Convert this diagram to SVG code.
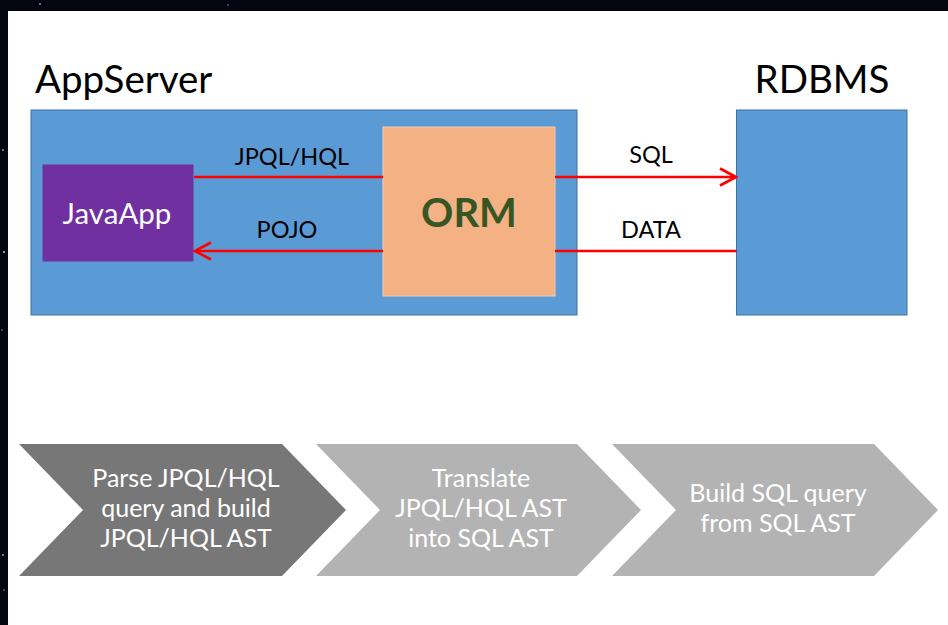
<svg xmlns="http://www.w3.org/2000/svg" width="948" height="625" viewBox="0 0 948 625">
  <defs>
    <style>
      .title { font-family: Lato, "Open Sans", "Liberation Sans", sans-serif; font-size: 38.5px; fill: #000; }
      .lbl { font-family: Lato, "Open Sans", "Liberation Sans", sans-serif; font-size: 23.5px; fill: #000; text-anchor: middle; }
      .box { fill: #5B9BD5; stroke: #41719C; stroke-width: 1; }
      .wire { stroke: #FF0000; stroke-width: 2.6; fill: none; }
      .step { font-family: Lato, "Open Sans", "Liberation Sans", sans-serif; font-size: 25px; fill: #FFFFFF; text-anchor: middle; }
    </style>
    <marker id="head" viewBox="0 0 20 20" markerWidth="20" markerHeight="20" refX="18" refY="10" orient="auto" markerUnits="userSpaceOnUse">
      <path d="M2,1.5 L18,10 L2,18.5" fill="none" stroke="#FF0000" stroke-width="2.6"/>
    </marker>
  </defs>

  <!-- dark backdrop and white slide area -->
  <rect x="0" y="0" width="948" height="625" fill="#03060F"/>
  <g fill="#8A93A8">
    <circle cx="3" cy="150" r="1"/>
    <circle cx="4" cy="252" r="1.2"/>
    <circle cx="2" cy="330" r="0.8"/>
    <circle cx="3" cy="555" r="1"/>
    <circle cx="4" cy="590" r="0.8"/>
    <circle cx="40" cy="4" r="1"/>
    <circle cx="228" cy="5" r="0.8"/>
  </g>
  <rect x="8" y="11" width="940" height="614" fill="#FFFFFF"/>

  <!-- titles -->
  <text class="title" x="35" y="93">AppServer</text>
  <text class="title" x="822" y="93" text-anchor="middle">RDBMS</text>

  <g id="appserver">
    <rect class="box" x="31" y="110" width="546" height="205"/>
  </g>

  <g id="rdbms">
    <rect class="box" x="736.5" y="110" width="170.5" height="205"/>
  </g>

  <g id="javaapp">
    <rect x="42" y="164" width="152" height="98" fill="#7030A0" stroke="#5B9BD5" stroke-width="1"/>
    <text x="117" y="224" font-family="Lato, 'Open Sans', 'Liberation Sans', sans-serif" font-size="29.5" fill="#FFFFFF" text-anchor="middle">JavaApp</text>
  </g>

  <g id="orm">
    <rect x="383" y="127" width="172" height="169" fill="#F4B183" stroke="#F8CBAD" stroke-width="1"/>
    <text x="469" y="227" font-family="Lato, 'Open Sans', 'Liberation Sans', sans-serif" font-size="40" font-weight="bold" fill="#375623" text-anchor="middle">ORM</text>
  </g>

  <g id="connectors">
    <line class="wire" x1="194" y1="177" x2="383" y2="177"/>
    <line class="wire" x1="555" y1="177" x2="736" y2="177" marker-end="url(#head)"/>
    <line class="wire" x1="736.5" y1="251" x2="555" y2="251"/>
    <line class="wire" x1="383" y1="251" x2="195" y2="251" marker-end="url(#head)"/>
    <text class="lbl" x="292" y="165">JPQL/HQL</text>
    <text class="lbl" x="287" y="238">POJO</text>
    <text class="lbl" x="651" y="163">SQL</text>
    <text class="lbl" x="651" y="238">DATA</text>
  </g>

  <!-- processing steps -->
  <g id="step-parse">
    <polygon points="19,444 282,444 346,510 282,576 19,576 83,510" fill="#777777"/>
    <text class="step" x="186" y="487">Parse JPQL/HQL</text>
    <text class="step" x="186" y="517">query and build</text>
    <text class="step" x="186" y="547">JPQL/HQL AST</text>
  </g>

  <g id="step-translate">
    <polygon points="316,444 577,444 641,510 577,576 316,576 380,510" fill="#B3B3B3"/>
    <text class="step" x="481" y="487">Translate</text>
    <text class="step" x="481" y="517">JPQL/HQL AST</text>
    <text class="step" x="481" y="547">into SQL AST</text>
  </g>

  <g id="step-build">
    <polygon points="612,444 874,444 938,510 874,576 612,576 676,510" fill="#B3B3B3"/>
    <text class="step" x="778" y="502">Build SQL query</text>
    <text class="step" x="778" y="532">from SQL AST</text>
  </g>
</svg>
